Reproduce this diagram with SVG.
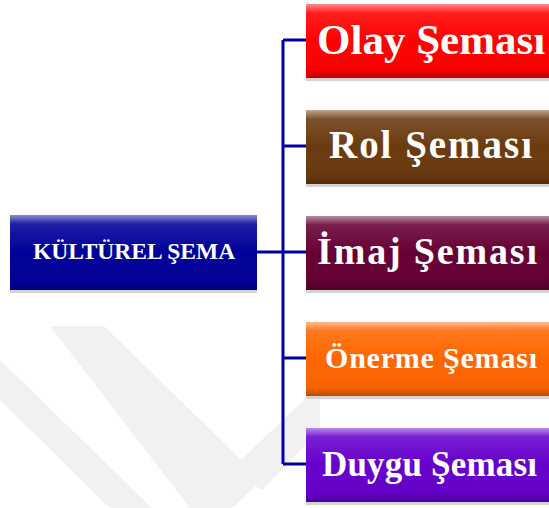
<svg xmlns="http://www.w3.org/2000/svg" width="549" height="508" viewBox="0 0 549 508">
<defs>
<linearGradient id="bevel" x1="0" y1="0" x2="0" y2="1">
<stop offset="0" stop-color="#fff" stop-opacity="0.55"/>
<stop offset="0.12" stop-color="#fff" stop-opacity="0.12"/>
<stop offset="0.5" stop-color="#fff" stop-opacity="0"/>
<stop offset="0.9" stop-color="#000" stop-opacity="0.05"/>
<stop offset="1" stop-color="#000" stop-opacity="0.25"/>
</linearGradient>
</defs>
<style>
.lbl{font-family:"Liberation Serif","Times New Roman",serif;font-weight:bold;fill:#fff;}
.shadow{fill:#d4d4d4;}
.bev{fill:url(#bevel);}
.conn{fill:none;stroke:#0000a0;stroke-width:3;}
.wm{fill:#f1f1f1;}
</style>
<rect width="549" height="508" fill="#fff"/>
<g id="watermark">
<polygon class="wm" points="50,326 104,326 262,480 232,508 190,508"/>
<polygon class="wm" points="0,360 0,400 110,508 152,508"/>
<polygon class="wm" points="230,470 320,385 320,430 262,490"/>
</g>
<g id="connectors">
<path class="conn" d="M257,252 H283 M283,40 V464 M283,40 H306 M283,146 H306 M283,252 H306 M283,358 H306 M283,464 H306"/>
</g>
<g id="kulturel-sema">
<rect class="shadow" x="10" y="290" width="247" height="3"/>
<rect x="10" y="215" width="247" height="75" fill="#000099"/>
<rect class="bev" x="10" y="215" width="247" height="75"/>
<text class="lbl" x="134" y="259" text-anchor="middle" font-size="23.5">KÜLTÜREL ŞEMA</text>
</g>
<g id="olay-semasi">
<rect class="shadow" x="306" y="78" width="260" height="3"/>
<rect x="306" y="4" width="260" height="74" fill="#ff0000"/>
<rect class="bev" x="306" y="4" width="260" height="74"/>
<text class="lbl" x="317" y="54" font-size="43">Olay Şeması</text>
</g>
<g id="rol-semasi">
<rect class="shadow" x="306" y="184" width="260" height="3"/>
<rect x="306" y="110" width="260" height="74" fill="#6b3a0f"/>
<rect class="bev" x="306" y="110" width="260" height="74"/>
<text class="lbl" x="329" y="158" font-size="39" textLength="203" lengthAdjust="spacing">Rol Şeması</text>
</g>
<g id="imaj-semasi">
<rect class="shadow" x="306" y="290" width="260" height="3"/>
<rect x="306" y="216" width="260" height="74" fill="#660033"/>
<rect class="bev" x="306" y="216" width="260" height="74"/>
<text class="lbl" x="317" y="264" font-size="38" textLength="220" lengthAdjust="spacing">İmaj Şeması</text>
</g>
<g id="onerme-semasi">
<rect class="shadow" x="306" y="396" width="260" height="3"/>
<rect x="306" y="322" width="260" height="74" fill="#ff6600"/>
<rect class="bev" x="306" y="322" width="260" height="74"/>
<text class="lbl" x="325" y="368" font-size="30" textLength="212" lengthAdjust="spacing">Önerme Şeması</text>
</g>
<g id="duygu-semasi">
<rect class="shadow" x="306" y="502" width="260" height="3"/>
<rect x="306" y="428" width="260" height="74" fill="#6600cc"/>
<rect class="bev" x="306" y="428" width="260" height="74"/>
<text class="lbl" x="322" y="476" font-size="35" textLength="215" lengthAdjust="spacing">Duygu Şeması</text>
</g>
</svg>
